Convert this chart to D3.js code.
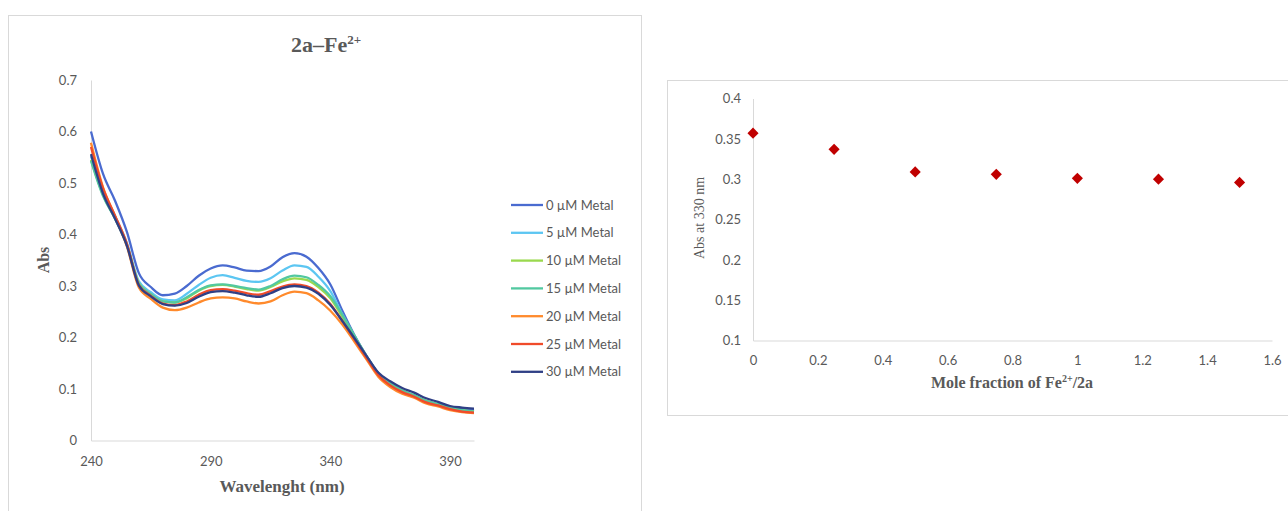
<!DOCTYPE html>
<html>
<head>
<meta charset="utf-8">
<script src="https://cdn.jsdelivr.net/npm/d3@7"></script>
<style>
  body { margin: 0; background: #fff; }
  svg { display: block; }
  .tick text { font-family: Lato, "Open Sans", sans-serif; fill: #595959; }
</style>
</head>
<body>
<div id="chart"></div>
<script>
var width = 1288,
    height = 511;

// wavelengths (nm), one reading every 5 nm
var wavelengths = [240,245,250,255,260,265,270,275,280,285,290,295,300,305,310,315,320,
                   325,330,335,340,345,350,355,360,365,370,375,380,385,390,395,400];

var metal0  = [0.600,0.518,0.466,0.405,0.325,0.298,0.282,0.285,0.300,0.320,0.334,0.340,0.336,0.330,0.329,0.338,0.356,
               0.364,0.357,0.335,0.303,0.252,0.205,0.165,0.130,0.109,0.094,0.086,0.076,0.070,0.064,0.061,0.059];
var metal5  = [0.552,0.482,0.436,0.383,0.309,0.288,0.274,0.272,0.285,0.302,0.316,0.321,0.316,0.310,0.308,0.315,0.330,
               0.340,0.337,0.318,0.290,0.245,0.203,0.164,0.129,0.108,0.094,0.085,0.075,0.069,0.063,0.059,0.057];
var metal10 = [0.545,0.477,0.432,0.380,0.305,0.284,0.270,0.268,0.276,0.291,0.300,0.302,0.299,0.294,0.291,0.298,0.309,
               0.315,0.312,0.298,0.276,0.240,0.202,0.164,0.130,0.110,0.097,0.087,0.077,0.070,0.064,0.059,0.056];
var metal15 = [0.543,0.475,0.431,0.379,0.304,0.284,0.270,0.268,0.278,0.292,0.301,0.303,0.300,0.296,0.293,0.300,0.313,
               0.320,0.317,0.302,0.280,0.244,0.204,0.165,0.131,0.111,0.097,0.088,0.077,0.071,0.064,0.059,0.056];
var metal20 = [0.578,0.492,0.436,0.377,0.297,0.275,0.258,0.253,0.258,0.268,0.276,0.278,0.276,0.270,0.266,0.270,0.282,
               0.289,0.286,0.272,0.252,0.225,0.192,0.158,0.124,0.104,0.091,0.083,0.072,0.066,0.059,0.055,0.053];
var metal25 = [0.570,0.490,0.437,0.382,0.302,0.281,0.266,0.263,0.270,0.283,0.292,0.294,0.291,0.286,0.283,0.290,0.299,
               0.303,0.300,0.287,0.265,0.232,0.197,0.161,0.127,0.107,0.094,0.085,0.074,0.068,0.061,0.056,0.054];
var metal30 = [0.556,0.480,0.431,0.378,0.301,0.280,0.265,0.262,0.267,0.279,0.288,0.290,0.287,0.282,0.279,0.286,0.296,
               0.300,0.297,0.285,0.263,0.232,0.199,0.165,0.132,0.115,0.102,0.093,0.082,0.075,0.067,0.064,0.062];

var seriesNames  = ["0 µM Metal","5 µM Metal","10 µM Metal","15 µM Metal","20 µM Metal","25 µM Metal","30 µM Metal"];
var seriesValues = [metal0, metal5, metal10, metal15, metal20, metal25, metal30];
var seriesColors = ["#4a6bd0","#5cc6f2","#9ad94e","#52c8a0","#ff8a2c","#f04b2a","#2f3f85"];

var specXTicks = [240,290,340,390];
var specYTicks = [0,0.1,0.2,0.3,0.4,0.5,0.6,0.7];

// Job plot: mole fraction vs abs at 330 nm
var moleFraction = [0,0.25,0.5,0.75,1,1.25,1.5];
var abs330       = [0.357,0.337,0.309,0.306,0.301,0.300,0.296];
var jobXTicks = [0,0.2,0.4,0.6,0.8,1,1.2,1.4,1.6];
var jobYTicks = [0.1,0.15,0.2,0.25,0.3,0.35,0.4];

var svg = d3.select("#chart").append("svg")
    .attr("width", width)
    .attr("height", height);

// panel frames
svg.append("rect")
    .attr("x", 8.5).attr("y", 15.5)
    .attr("width", 633).attr("height", 520)
    .attr("fill", "none").attr("stroke", "#d9d9d9");
svg.append("rect")
    .attr("x", 667.5).attr("y", 80.5)
    .attr("width", 640).attr("height", 335)
    .attr("fill", "none").attr("stroke", "#d9d9d9");

// ---------- left: spectra ----------
var x = d3.scaleLinear().domain([240, 400]).range([91, 474]);
var y = d3.scaleLinear().domain([0, 0.7]).range([440.5, 80]);

var title = svg.append("text")
    .attr("x", 326).attr("y", 52)
    .attr("text-anchor", "middle")
    .style("font-family", "'Liberation Serif', serif")
    .style("font-weight", "bold")
    .style("font-size", "22px")
    .attr("fill", "#595959");
title.append("tspan").text("2a–Fe");
title.append("tspan").attr("dy", -8).style("font-size", "13px").text("2+");

svg.append("g")
    .attr("transform", "translate(91,0)")
    .call(d3.axisLeft(y).tickValues(specYTicks).tickFormat(function(d) { return String(d); })
        .tickSize(0).tickPadding(14));
svg.append("g")
    .attr("transform", "translate(0,440.5)")
    .call(d3.axisBottom(x).tickValues(specXTicks).tickFormat(function(d) { return String(d); })
        .tickSize(0).tickPadding(16));

svg.append("text")
    .attr("transform", "translate(49,260)rotate(-90)")
    .attr("text-anchor", "middle")
    .style("font-family", "'Liberation Serif', serif")
    .style("font-weight", "bold")
    .style("font-size", "16px")
    .attr("fill", "#595959")
    .text("Abs");
svg.append("text")
    .attr("x", 282).attr("y", 492)
    .attr("text-anchor", "middle")
    .style("font-family", "'Liberation Serif', serif")
    .style("font-weight", "bold")
    .style("font-size", "17px")
    .attr("fill", "#595959")
    .text("Wavelenght (nm)");

var line = d3.line()
    .x(function(d, i) { return x(wavelengths[i]); })
    .y(function(d) { return y(d); })
    .curve(d3.curveMonotoneX);

svg.append("g").selectAll("path")
    .data(seriesValues)
    .enter()
    .append("path")
    .attr("d", line)
    .attr("fill", "none")
    .attr("stroke", function(d, i) { return seriesColors[i]; })
    .attr("stroke-width", 2.3)
    .attr("stroke-linejoin", "round");

// legend
var legend = svg.append("g").selectAll("g")
    .data(seriesNames)
    .enter()
    .append("g")
    .attr("transform", function(d, i) { return "translate(511," + (205 + i * 27.8) + ")"; });
legend.append("line")
    .attr("x1", 0).attr("x2", 32)
    .attr("stroke", function(d, i) { return seriesColors[i]; })
    .attr("stroke-width", 2.3);
legend.append("text")
    .attr("x", 35).attr("dy", "0.35em")
    .style("font-family", "Lato, 'Open Sans', sans-serif")
    .style("font-size", "13px")
    .attr("fill", "#595959")
    .text(function(d) { return d; });

// ---------- right: job plot ----------
var x2 = d3.scaleLinear().domain([0, 1.6]).range([753, 1272]);
var y2 = d3.scaleLinear().domain([0.1, 0.4]).range([340.5, 98.5]);

svg.append("g")
    .attr("transform", "translate(753,0)")
    .call(d3.axisLeft(y2).tickValues(jobYTicks).tickFormat(function(d) { return String(d); })
        .tickSize(0).tickPadding(12));
svg.append("g")
    .attr("transform", "translate(0,340.5)")
    .call(d3.axisBottom(x2).tickValues(jobXTicks).tickFormat(function(d) { return String(d); })
        .tickSize(0).tickPadding(15));

svg.selectAll(".domain").attr("stroke", "#d9d9d9");
svg.selectAll(".tick text").style("font-size", "13px");

svg.append("text")
    .attr("transform", "translate(704,218)rotate(-90)")
    .attr("text-anchor", "middle")
    .style("font-family", "'Liberation Serif', serif")
    .style("font-size", "14px")
    .attr("fill", "#595959")
    .text("Abs at 330 nm");

var xlab = svg.append("text")
    .attr("x", 1012).attr("y", 388)
    .attr("text-anchor", "middle")
    .style("font-family", "'Liberation Serif', serif")
    .style("font-weight", "bold")
    .style("font-size", "16px")
    .attr("fill", "#595959");
xlab.append("tspan").text("Mole fraction of Fe");
xlab.append("tspan").attr("dy", -6).style("font-size", "10px").text("2+");
xlab.append("tspan").attr("dy", 6).text("/2a");

var diamond = d3.symbol().type(d3.symbolSquare).size(62);
svg.append("g").selectAll("path")
    .data(abs330)
    .enter()
    .append("path")
    .attr("d", diamond)
    .attr("transform", function(d, i) { return "translate(" + x2(moleFraction[i]) + "," + y2(d) + ")rotate(45)"; })
    .attr("fill", "#c00000");
</script>
</body>
</html>
